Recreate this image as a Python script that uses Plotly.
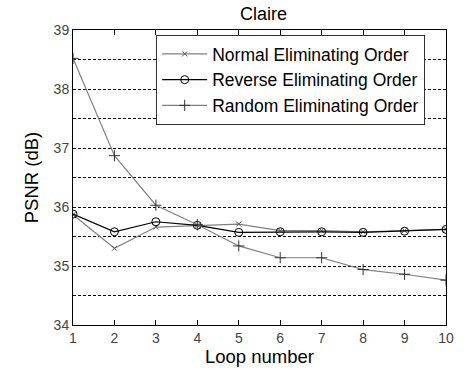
import plotly.graph_objects as go

loops = [1, 2, 3, 4, 5, 6, 7, 8, 9, 10]
normal = [35.87, 35.30, 35.66, 35.69, 35.71, 35.60, 35.60, 35.58, 35.60, 35.62]
reverse = [35.88, 35.58, 35.75, 35.69, 35.57, 35.58, 35.58, 35.57, 35.59, 35.62]
random_order = [38.52, 36.87, 36.03, 35.70, 35.34, 35.14, 35.14, 34.94, 34.86, 34.76]
y_ticks = [34, 35, 36, 37, 38, 39]

FONT = "Liberation Sans, Arial, sans-serif"
GRAY = "#808080"

fig = go.Figure()
fig.add_trace(go.Scatter(x=loops, y=normal, name="Normal Eliminating Order",
                         mode="lines+markers",
                         line=dict(color=GRAY, width=1.2),
                         marker=dict(symbol="x-thin", size=5, color=GRAY,
                                     line=dict(color="#555555", width=1))))
fig.add_trace(go.Scatter(x=loops, y=reverse, name="Reverse Eliminating Order",
                         mode="lines+markers",
                         line=dict(color="#000000", width=1.2),
                         marker=dict(symbol="circle-open", size=8, color="#000000",
                                     line=dict(color="#000000", width=1))))
fig.add_trace(go.Scatter(x=loops, y=random_order, name="Random Eliminating Order",
                         mode="lines+markers",
                         line=dict(color=GRAY, width=1.2),
                         marker=dict(symbol="cross-thin", size=8, color=GRAY,
                                     line=dict(color="#333333", width=1))))

fig.update_layout(
    width=464, height=369,
    margin=dict(l=73, r=10, t=30, b=40),
    paper_bgcolor="#ffffff", plot_bgcolor="#ffffff",
    font=dict(family=FONT, color="#000000"),
    title=dict(text="Claire", x=0.568, xanchor="center", y=0.962, yanchor="middle",
               font=dict(size=18, family=FONT, color="#000000")),
    legend=dict(x=0.223, y=0.983, xanchor="left", yanchor="top",
                bgcolor="#ffffff", bordercolor="#333333", borderwidth=1,
                font=dict(size=17.5, family=FONT, color="#000000"),
                tracegroupgap=0, itemwidth=45),
    showlegend=True,
)
fig.update_xaxes(range=[1, 10], tickvals=loops, ticks="inside", ticklen=5,
                 tickcolor="#000000", showline=True, linecolor="#000000",
                 linewidth=1, mirror="ticks", showgrid=False, zeroline=False,
                 tickfont=dict(size=14, color="#444444", family=FONT),
                 title=dict(text="Loop number", standoff=0,
                            font=dict(size=18.5, family=FONT, color="#000000")))
fig.update_yaxes(range=[34, 39], tickvals=y_ticks, ticks="", showline=True,
                 linecolor="#000000", linewidth=1, mirror=True,
                 showgrid=True, gridcolor="#000000", gridwidth=1, griddash="3px,2px",
                 minor=dict(dtick=0.5, showgrid=True, gridcolor="#000000",
                            gridwidth=1, griddash="3px,2px"),
                 zeroline=False,
                 tickfont=dict(size=14, color="#444444", family=FONT),
                 title=dict(text="PSNR (dB)", standoff=10,
                            font=dict(size=18.5, family=FONT, color="#000000")))

fig.write_html("out.html")
